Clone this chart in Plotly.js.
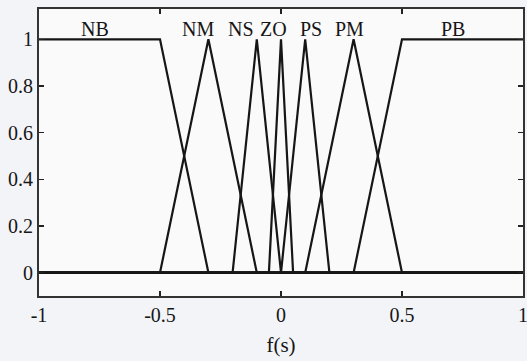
<!DOCTYPE html>
<html><head><meta charset="utf-8">
<script src="https://cdn.plot.ly/plotly-3.0.1.min.js"></script>
<style>html,body{margin:0;padding:0;background:#f3f4f8;}#c{width:527px;height:361px;}</style>
</head><body><div id="c"></div>
<script>
// Membership functions (x breakpoints and membership values)
const names = ["NB","NM","NS","ZO","PS","PM","PB"];
const xNB = [-1, -0.5, -0.3, 1];      const yNB = [1, 1, 0, 0];
const xNM = [-1, -0.5, -0.3, -0.1, 1]; const yNM = [0, 0, 1, 0, 0];
const xNS = [-1, -0.2, -0.1, 0, 1];    const yNS = [0, 0, 1, 0, 0];
const xZO = [-1, -0.05, 0, 0.05, 1];   const yZO = [0, 0, 1, 0, 0];
const xPS = [-1, 0, 0.1, 0.2, 1];      const yPS = [0, 0, 1, 0, 0];
const xPM = [-1, 0.1, 0.3, 0.5, 1];    const yPM = [0, 0, 1, 0, 0];
const xPB = [-1, 0.3, 0.5, 1];         const yPB = [0, 0, 1, 1];
// label positions
const labelX = [-0.77, -0.345, -0.165, -0.03, 0.125, 0.285, 0.71];
const labelY = [1.045, 1.045, 1.045, 1.045, 1.045, 1.045, 1.045];
const xTicks = [-1, -0.5, 0, 0.5, 1];
const xTickText = ["-1", "-0.5", "0", "0.5", "1"];
const yTicks = [0, 0.2, 0.4, 0.6, 0.8, 1];
const yTickText = ["0", "0.2", "0.4", "0.6", "0.8", "1"];

const xs = [xNB, xNM, xNS, xZO, xPS, xPM, xPB];
const ys = [yNB, yNM, yNS, yZO, yPS, yPM, yPB];
const traces = xs.map((x, i) => ({
  x: x, y: ys[i], mode: "lines", type: "scatter", name: names[i],
  line: {color: "#161616", width: 2.2}, hoverinfo: "skip"
}));
const serif = "Liberation Serif, Times New Roman, serif";
const annotations = names.map((n, i) => ({
  x: labelX[i], y: labelY[i], text: n, showarrow: false,
  xref: "x", yref: "y", font: {family: serif, size: 20, color: "#161616"}
}));
const layout = {
  width: 527, height: 361,
  margin: {l: 39, r: 4, t: 9, b: 65},
  paper_bgcolor: "#f3f4f8", plot_bgcolor: "#fafafb",
  showlegend: false,
  font: {family: serif, size: 20, color: "#161616"},
  xaxis: {
    range: [-1, 1], tickvals: xTicks, ticktext: xTickText,
    ticks: "inside", ticklen: 5, tickwidth: 1.5, tickcolor: "#222",
    showline: true, linecolor: "#333", linewidth: 2, mirror: "ticks",
    showgrid: false, zeroline: false, ticklabeloverflow: "allow",
    automargin: false,
    title: {text: "f(s)", font: {family: serif, size: 21}, standoff: 12}
  },
  yaxis: {
    range: [-0.1, 1.13], tickvals: yTicks, ticktext: yTickText,
    ticks: "inside", ticklen: 5, tickwidth: 1.5, tickcolor: "#222",
    showline: true, linecolor: "#333", linewidth: 2, mirror: "ticks",
    showgrid: false, zeroline: false, automargin: false
  },
  annotations: annotations
};
Plotly.newPlot("c", traces, layout, {displayModeBar: false, staticPlot: true});
</script></body></html>
